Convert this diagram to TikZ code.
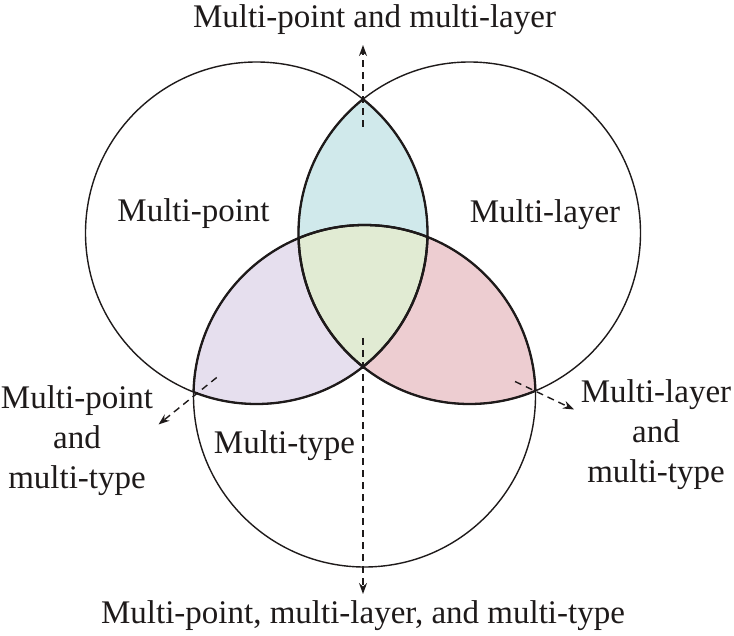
\documentclass[tikz,border=0pt]{standalone}
\usepackage{fontspec}
\setmainfont{Liberation Serif}
\usetikzlibrary{arrows.meta}
\definecolor{cteal}{HTML}{D0E9EB}
\definecolor{cgreen}{HTML}{E1EBD3}
\definecolor{cpurple}{HTML}{E6DFEE}
\definecolor{cpink}{HTML}{EDCDD1}
\definecolor{cline}{HTML}{1E1A1A}
\tikzset{
  ring/.style={draw=cline, line width=1.4pt},
  edgethick/.style={draw=cline, line width=2.3pt},
  lab/.style={font=\fontsize{33}{40}\selectfont, inner sep=0pt, text=cline},
  mlab/.style={lab, align=center, anchor=north},
  darrow/.style={draw=cline, line width=1.4pt, dash pattern=on 7pt off 5pt,
    -{Stealth[length=11pt,width=8pt]}}
}
\begin{document}
\begin{tikzpicture}[x=1pt,y=-1pt]
\useasboundingbox (0,0) rectangle (734,636);
\def\rr{171pt}
\coordinate (L) at (256.5,233);
\coordinate (R) at (469.5,233);
\coordinate (B) at (364.5,396);
% fills
\begin{scope}\clip (L) circle[radius=\rr]; \fill[cteal] (R) circle[radius=\rr];\end{scope}
\begin{scope}\clip (L) circle[radius=\rr]; \fill[cpurple] (B) circle[radius=\rr];\end{scope}
\begin{scope}\clip (R) circle[radius=\rr]; \fill[cpink] (B) circle[radius=\rr];\end{scope}
\begin{scope}\clip (L) circle[radius=\rr]; \clip (R) circle[radius=\rr]; \fill[cgreen] (B) circle[radius=\rr];\end{scope}
% circles
\draw[ring] (L) circle[radius=\rr];
\draw[ring] (R) circle[radius=\rr];
\draw[ring] (B) circle[radius=\rr];
% thick inner arcs
\begin{scope}\clip (R) circle[radius=\rr]; \draw[edgethick] (L) circle[radius=\rr];\end{scope}
\begin{scope}\clip (B) circle[radius=\rr]; \draw[edgethick] (L) circle[radius=\rr];\end{scope}
\begin{scope}\clip (L) circle[radius=\rr]; \draw[edgethick] (R) circle[radius=\rr];\end{scope}
\begin{scope}\clip (B) circle[radius=\rr]; \draw[edgethick] (R) circle[radius=\rr];\end{scope}
\begin{scope}\clip (L) circle[radius=\rr]; \draw[edgethick] (B) circle[radius=\rr];\end{scope}
\begin{scope}\clip (R) circle[radius=\rr]; \draw[edgethick] (B) circle[radius=\rr];\end{scope}
% labels
\node[lab, anchor=base] (ttop) at (374.5,27.5) {Multi-point and multi-layer};
\node[lab, anchor=base] (tmp) at (193.5,221.5) {Multi-point};
\node[lab, anchor=base] (tml) at (545,222.5) {Multi-layer};
\node[lab, anchor=base] (tmt) at (284.5,453) {Multi-type};
\node[mlab] (tleft) at (77,385) {Multi-point\\and\\multi-type};
\node[mlab] (tright) at (656,379) {Multi-layer\\and\\multi-type};
\node[lab, anchor=base] (tbot) at (363,623.5) {Multi-point, multi-layer, and multi-type};
% arrows
\coordinate (a1s) at (363,127); \coordinate (a1e) at (363,45);
\coordinate (a2s) at (363,338); \coordinate (a2e) at (363,594);
\coordinate (a3s) at (216.7,377.5); \coordinate (a3e) at (158.5,424.5);
\coordinate (a4s) at (515,381.5); \coordinate (a4e) at (574,409.5);
\draw[darrow] (a1s) -- (a1e);
\draw[darrow] (a2s) -- (a2e);
\draw[darrow] (a3s) -- (a3e);
\draw[darrow] (a4s) -- (a4e);
\end{tikzpicture}
\end{document}
